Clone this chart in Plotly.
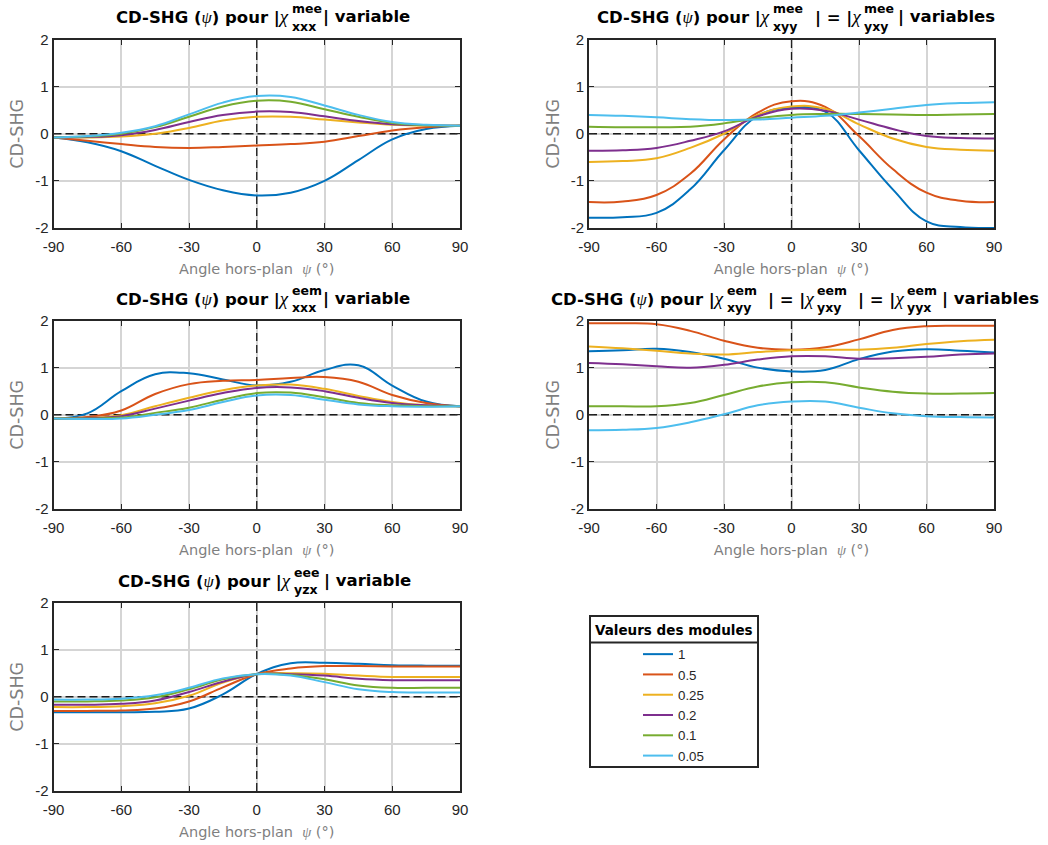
import plotly.graph_objects as go

# ---------------- data ----------------
psi = [-90, -75, -60, -45, -30, -15, 0, 15, 30, 45, 60, 75, 90]
modules = ["1", "0.5", "0.25", "0.2", "0.1", "0.05"]
x_ticks = [-90, -60, -30, 0, 30, 60, 90]
y_ticks = [-2, -1, 0, 1, 2]

# |chi_xxx^mee| variable
mee_xxx = [
    [-0.08, -0.18, -0.37, -0.68, -0.98, -1.20, -1.31, -1.25, -1.00, -0.56, -0.12, 0.10, 0.17],
    [-0.08, -0.15, -0.22, -0.28, -0.30, -0.28, -0.25, -0.22, -0.17, -0.05, 0.07, 0.14, 0.17],
    [-0.08, -0.08, -0.06, 0.00, 0.12, 0.28, 0.36, 0.36, 0.30, 0.24, 0.19, 0.17, 0.17],
    [-0.08, -0.07, -0.03, 0.08, 0.25, 0.40, 0.47, 0.46, 0.37, 0.27, 0.20, 0.18, 0.17],
    [-0.08, -0.06, 0.00, 0.14, 0.36, 0.58, 0.70, 0.68, 0.52, 0.36, 0.23, 0.18, 0.17],
    [-0.08, -0.05, 0.02, 0.16, 0.41, 0.66, 0.80, 0.78, 0.60, 0.40, 0.25, 0.19, 0.17],
]
# |chi_xyy^mee| = |chi_yxy^mee| variables
mee_xyy = [
    [-1.78, -1.77, -1.68, -1.18, -0.35, 0.38, 0.55, 0.47, -0.35, -1.18, -1.86, -1.98, -2.00],
    [-1.45, -1.44, -1.30, -0.85, -0.12, 0.45, 0.69, 0.57, -0.05, -0.75, -1.25, -1.42, -1.45],
    [-0.60, -0.58, -0.52, -0.30, 0.00, 0.40, 0.58, 0.53, 0.20, -0.10, -0.28, -0.34, -0.36],
    [-0.36, -0.35, -0.30, -0.15, 0.05, 0.37, 0.53, 0.49, 0.30, 0.10, -0.05, -0.09, -0.10],
    [0.15, 0.14, 0.14, 0.15, 0.22, 0.33, 0.40, 0.42, 0.42, 0.41, 0.40, 0.41, 0.42],
    [0.40, 0.38, 0.35, 0.31, 0.29, 0.30, 0.34, 0.38, 0.45, 0.53, 0.61, 0.65, 0.67],
]
# |chi_xxx^eem| variable
eem_xxx = [
    [-0.08, 0.03, 0.50, 0.86, 0.88, 0.75, 0.62, 0.70, 0.95, 1.05, 0.62, 0.28, 0.18],
    [-0.08, -0.05, 0.09, 0.44, 0.65, 0.72, 0.74, 0.78, 0.80, 0.70, 0.42, 0.25, 0.18],
    [-0.08, -0.07, -0.01, 0.18, 0.36, 0.52, 0.62, 0.64, 0.55, 0.40, 0.27, 0.20, 0.18],
    [-0.08, -0.07, -0.03, 0.13, 0.30, 0.46, 0.57, 0.58, 0.50, 0.36, 0.25, 0.20, 0.18],
    [-0.08, -0.08, -0.06, 0.04, 0.15, 0.32, 0.46, 0.47, 0.37, 0.25, 0.20, 0.18, 0.18],
    [-0.08, -0.09, -0.08, 0.00, 0.10, 0.27, 0.41, 0.42, 0.32, 0.22, 0.18, 0.17, 0.18],
]
# |chi_xyy^eem| = |chi_yxy^eem| = |chi_yyx^eem| variables
eem_xyy = [
    [1.35, 1.37, 1.40, 1.33, 1.19, 1.00, 0.92, 0.95, 1.18, 1.34, 1.39, 1.36, 1.32],
    [1.94, 1.94, 1.92, 1.78, 1.57, 1.42, 1.38, 1.43, 1.60, 1.80, 1.88, 1.89, 1.89],
    [1.45, 1.41, 1.36, 1.30, 1.28, 1.33, 1.37, 1.38, 1.38, 1.42, 1.50, 1.56, 1.59],
    [1.10, 1.07, 1.03, 1.00, 1.06, 1.17, 1.24, 1.24, 1.19, 1.20, 1.23, 1.28, 1.30],
    [0.18, 0.18, 0.18, 0.25, 0.42, 0.60, 0.69, 0.69, 0.58, 0.49, 0.45, 0.45, 0.46],
    [-0.33, -0.32, -0.28, -0.16, 0.01, 0.20, 0.28, 0.28, 0.15, 0.03, -0.03, -0.05, -0.06],
]
# |chi_yzx^eee| variable
eee_yzx = [
    [-0.33, -0.33, -0.33, -0.32, -0.25, 0.05, 0.48, 0.71, 0.72, 0.70, 0.67, 0.66, 0.66],
    [-0.30, -0.30, -0.29, -0.25, -0.10, 0.20, 0.48, 0.60, 0.65, 0.65, 0.64, 0.64, 0.64],
    [-0.22, -0.22, -0.20, -0.14, 0.02, 0.30, 0.48, 0.50, 0.49, 0.45, 0.42, 0.42, 0.42],
    [-0.17, -0.17, -0.15, -0.08, 0.10, 0.32, 0.48, 0.48, 0.45, 0.38, 0.35, 0.35, 0.35],
    [-0.10, -0.10, -0.08, -0.01, 0.16, 0.37, 0.48, 0.46, 0.37, 0.24, 0.19, 0.19, 0.19],
    [-0.06, -0.06, -0.04, 0.03, 0.19, 0.39, 0.48, 0.45, 0.31, 0.16, 0.10, 0.09, 0.09],
]

# ---------------- style ----------------
W, H = 1048, 845
COLORS = ["#0072BD", "#D95319", "#EDB120", "#7E2F8E", "#77AC30", "#4DBEEE"]
DARK = "#262626"
GRAY = "#7f7f7f"
TITLE_FONT = "DejaVu Sans"
LABEL_FONT = "DejaVu Sans"
TICK_FONT = "Liberation Sans, Arial, sans-serif"
GREEK = 'font-family:Liberation Serif;font-style:italic;font-weight:normal'


def px(x):
    return x / W


def py(y):
    return 1 - y / H


panels = [
    (mee_xxx, (53.5, 460), (39.5, 228)),
    (mee_xyy, (589, 994), (39.5, 228)),
    (eem_xxx, (53.5, 460), (320.5, 509)),
    (eem_xyy, (589, 994), (320.5, 509)),
    (eee_yzx, (53.5, 460), (602.5, 791)),
]

fig = go.Figure()
shapes = []
psi_html = '<span style="%s">ψ</span>' % GREEK

for i, (curves, (x0, x1), (y0, y1)) in enumerate(panels):
    k = "" if i == 0 else str(i + 1)
    for j, vals in enumerate(curves):
        fig.add_trace(go.Scatter(
            x=psi, y=vals, mode="lines",
            line=dict(color=COLORS[j], width=2, shape="spline", smoothing=1.2),
            name=modules[j], legendgroup=modules[j], showlegend=(i == 0),
            xaxis="x" + k, yaxis="y" + k, hoverinfo="skip",
        ))
    common = dict(
        ticks="inside", ticklen=5, tickwidth=1, tickcolor=DARK,
        showline=True, linewidth=2, linecolor=DARK, mirror="ticks",
        showgrid=True, gridcolor="#d5d5d5", gridwidth=1.5, zeroline=False,
        automargin=False,
        tickfont=dict(family=TICK_FONT, size=15, color=DARK),
    )
    fig.update_layout(**{
        "xaxis" + k: dict(
            domain=[px(x0), px(x1)], anchor="y" + k, range=[-90, 90],
            tickmode="array", tickvals=x_ticks, ticktext=[str(t) for t in x_ticks],
            ticklabelstandoff=4,
            title=dict(text="Angle hors-plan  %s (°)" % psi_html,
                       font=dict(family=LABEL_FONT, size=14.5, color=GRAY), standoff=10),
            **common),
        "yaxis" + k: dict(
            domain=[py(y1), py(y0)], anchor="x" + k, range=[-2, 2],
            tickmode="array", tickvals=y_ticks, ticktext=[str(t) for t in y_ticks],
            title=dict(text="CD-SHG", font=dict(family=LABEL_FONT, size=17.5, color=GRAY), standoff=7),
            **common),
    })
    dash = dict(color="#1a1a1a", width=1.3, dash="8px,4px")
    shapes.append(dict(type="line", xref="x" + k, yref="y" + k, x0=-90, x1=90, y0=0, y1=0,
                       line=dash, layer="between"))
    shapes.append(dict(type="line", xref="x" + k, yref="y" + k, x0=0, x1=0, y0=-2, y1=2,
                       line=dash, layer="between"))

# ---------------- titles (stacked super/subscripts) ----------------
annotations = []


def add_text(text, x, y, anchor, size):
    annotations.append(dict(
        text=text, x=px(x), y=py(y), xref="paper", yref="paper",
        xanchor=anchor, yanchor="middle", showarrow=False, borderpad=0,
        font=dict(family=TITLE_FONT, size=size, color="#000000"),
    ))


chi = '<span style="%s;font-size:19px">χ</span>' % GREEK
head = "<b>CD-SHG (</b>%s<b>) pour |</b>%s" % (psi_html, chi)
mid = "<b>| = |</b>%s" % chi

title_specs = [
    # (row top, [(text, x, anchor, kind)])
    (39.5, [(head, 290, "right", "main"), ("<b>mee</b>", 291, "left", "sup"),
            ("<b>xxx</b>", 291, "left", "sub"), ("<b>| variable</b>", 322, "left", "main")]),
    (39.5, [(head, 771, "right", "main"), ("<b>mee</b>", 772, "left", "sup"),
            ("<b>xyy</b>", 772, "left", "sub"), (mid, 862, "right", "main"),
            ("<b>mee</b>", 863, "left", "sup"), ("<b>yxy</b>", 863, "left", "sub"),
            ("<b>| variables</b>", 897, "left", "main")]),
    (320.5, [(head, 290, "right", "main"), ("<b>eem</b>", 291, "left", "sup"),
             ("<b>xxx</b>", 291, "left", "sub"), ("<b>| variable</b>", 322, "left", "main")]),
    (320.5, [(head, 725, "right", "main"), ("<b>eem</b>", 726, "left", "sup"),
             ("<b>xyy</b>", 726, "left", "sub"), (mid, 815, "right", "main"),
             ("<b>eem</b>", 816, "left", "sup"), ("<b>yxy</b>", 816, "left", "sub"),
             (mid, 905, "right", "main"), ("<b>eem</b>", 906, "left", "sup"),
             ("<b>yyx</b>", 906, "left", "sub"), ("<b>| variables</b>", 941, "left", "main")]),
    (602.5, [(head, 291.5, "right", "main"), ("<b>eee</b>", 292.5, "left", "sup"),
             ("<b>yzx</b>", 292.5, "left", "sub"), ("<b>| variable</b>", 323, "left", "main")]),
]
offsets = {"main": (-22, 16.5), "sup": (-30.5, 12.5), "sub": (-13.5, 12.5)}
for top, pieces in title_specs:
    for text, x, anchor, kind in pieces:
        dy, size = offsets[kind]
        add_text(text, x, top + dy, anchor, size)

# ---------------- legend box ----------------
LX0, LX1, LY0, LY1, LSEP = 590, 758, 616, 767, 642.5
shapes.append(dict(type="rect", xref="paper", yref="paper", x0=px(LX0), x1=px(LX1),
                   y0=py(LY1), y1=py(LY0), line=dict(color=DARK, width=2),
                   fillcolor="rgba(0,0,0,0)", layer="above"))
shapes.append(dict(type="line", xref="paper", yref="paper", x0=px(LX0), x1=px(LX1),
                   y0=py(LSEP), y1=py(LSEP), line=dict(color=DARK, width=2), layer="above"))
annotations.append(dict(text="<b>Valeurs des modules</b>", x=px((LX0 + LX1) / 2), y=py(630),
                        xref="paper", yref="paper", xanchor="center", yanchor="middle",
                        showarrow=False, font=dict(family=TITLE_FONT, size=13.5, color="#000000")))

fig.update_layout(
    width=W, height=H,
    margin=dict(l=0, r=0, t=0, b=0, autoexpand=False),
    paper_bgcolor="white", plot_bgcolor="white",
    shapes=shapes, annotations=annotations,
    showlegend=True,
    legend=dict(x=px(638), y=py(639), xanchor="left", yanchor="top",
                bgcolor="rgba(0,0,0,0)", borderwidth=0,
                font=dict(family=TICK_FONT, size=13.3, color=DARK),
                itemwidth=30, tracegroupgap=0),
)

# remove the default 8px page margin so the figure fills the window exactly
fig.write_html("out.html",
               config={"displayModeBar": False},
               post_script="document.body.style.margin='0';document.body.style.overflow='hidden';")
